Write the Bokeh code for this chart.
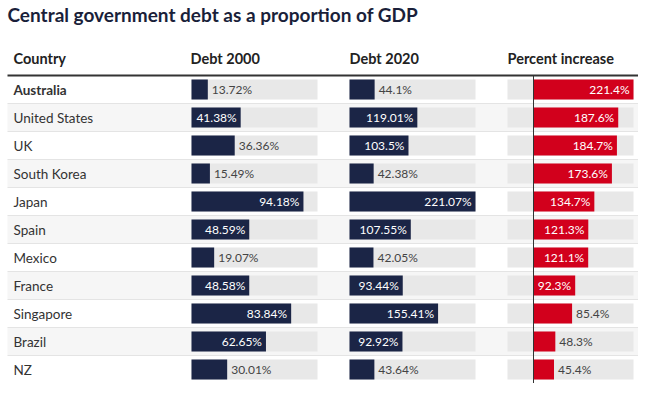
from bokeh.plotting import figure
from bokeh.models import Range1d, ColumnDataSource
from bokeh.core.properties import value
from bokeh.embed import file_html
from bokeh.resources import INLINE

# ---------------- data ----------------
countries = ["Australia", "United States", "UK", "South Korea", "Japan", "Spain",
             "Mexico", "France", "Singapore", "Brazil", "NZ"]
debt_2000 = [13.72, 41.38, 36.36, 15.49, 94.18, 48.59, 19.07, 48.58, 83.84, 62.65, 30.01]
debt_2020 = [44.1, 119.01, 103.5, 42.38, 221.07, 107.55, 42.05, 93.44, 155.41, 92.92, 43.64]
pct_increase = [221.4, 187.6, 184.7, 173.6, 134.7, 121.3, 121.1, 92.3, 85.4, 48.3, 45.4]
headers = ["Country", "Debt 2000", "Debt 2020", "Percent increase"]
title = "Central government debt as a proportion of GDP"

# ---------------- layout / style ----------------
W, H = 638, 383
ROW = 28.0          # row pitch in px
FIRST = 89.0        # px centre of first row
TITLE_Y = 14.0
HEAD_Y = 58.0
LINE_Y = 75.0
LEFT = 7
FONT = value("Lato")
NAVY = "#1b2546"
RED = "#d2001c"
TRACK = "#e8e8e8"
n = len(countries)
idx = list(range(n))


def ry(px):
    return (px - FIRST) / ROW


y_top = ry(0)
y_bot = ry(H)
BAR_H = 20 / ROW

p = figure(width=W, height=H, x_range=Range1d(0, W), y_range=Range1d(y_bot, y_top),
           output_backend="svg", toolbar_location=None, min_border=0)
p.axis.visible = False
p.grid.visible = False
p.outline_line_color = None
p.background_fill_color = "white"
p.border_fill_color = "white"

# column scales: (pixel start, pixel end, domain start, domain end)
COLS = {
    "d2000": (191, 317, 0, 106.0),
    "d2020": (349, 475, 0, 221.07),
    "pct": (507, 633, -57.6, 221.4),
}
extra = {}
for name, (px0, px1, d0, d1) in COLS.items():
    k = (px1 - px0) / (d1 - d0)
    start = d0 - px0 / k
    extra[name] = Range1d(start, start + W / k)
p.extra_x_ranges = extra

# row backgrounds and separators
odd = [i for i in idx if i % 2 == 1]
p.hbar(y=odd, left=LEFT, right=W, height=1, fill_color="#f6f6f6", line_color=None)
p.segment(x0=[LEFT] * n, x1=[W] * n, y0=[i + 0.5 for i in idx], y1=[i + 0.5 for i in idx],
          line_color="#e4e4e4", line_width=1)

# title & header
p.text(x=[LEFT], y=[ry(TITLE_Y)], text=[title], text_font=FONT, text_font_size="19px",
       text_font_style="bold", text_color="#1a1f3a", text_baseline="middle")
p.text(x=[13, 190, 349, 507], y=[ry(HEAD_Y)] * 4, text=headers, text_font=FONT,
       text_font_size="14.5px", text_font_style="bold", text_color="#222222",
       text_baseline="middle")
p.segment(x0=[LEFT], x1=[W], y0=[ry(LINE_Y)], y1=[ry(LINE_Y)], line_color="#333333",
          line_width=2)

# country names
styles = ["bold" if i == 0 else "normal" for i in idx]
csrc = ColumnDataSource(dict(y=idx, t=countries, s=styles))
p.text(x=13, y="y", text="t", source=csrc, text_font=FONT, text_font_size="13.5px",
       text_font_style="s", text_color="#333333", text_baseline="middle")


def column(name, vals, color):
    px0, px1, d0, d1 = COLS[name]
    k = (px1 - px0) / (d1 - d0)
    p.hbar(y=idx, left=d0, right=d1, height=BAR_H, fill_color=TRACK, line_color=None,
           x_range_name=name)
    p.hbar(y=idx, left=0, right=vals, height=BAR_H, fill_color=color, line_color=None,
           x_range_name=name)
    labels = [f"{v:g}%" for v in vals]
    inside = [v * k >= len(t) * 6.2 + 8 for v, t in zip(vals, labels)]
    si = ColumnDataSource(dict(x=[v for v, f in zip(vals, inside) if f],
                               y=[i for i, f in zip(idx, inside) if f],
                               t=[t for t, f in zip(labels, inside) if f]))
    so = ColumnDataSource(dict(x=[v for v, f in zip(vals, inside) if not f],
                               y=[i for i, f in zip(idx, inside) if not f],
                               t=[t for t, f in zip(labels, inside) if not f]))
    p.text(x="x", y="y", text="t", source=si, x_range_name=name, x_offset=-4,
           text_align="right", text_baseline="middle", text_font=FONT,
           text_font_size="12px", text_color="white")
    p.text(x="x", y="y", text="t", source=so, x_range_name=name, x_offset=4,
           text_align="left", text_baseline="middle", text_font=FONT,
           text_font_size="12px", text_color="#444444")


column("d2000", debt_2000, NAVY)
column("d2020", debt_2020, NAVY)
column("pct", pct_increase, RED)

# zero line for percent column
p.segment(x0=[0], x1=[0], y0=[ry(LINE_Y)], y1=[y_bot], line_color="#333333", line_width=1,
          x_range_name="pct")

open("out.html", "w").write(file_html(p, INLINE))
